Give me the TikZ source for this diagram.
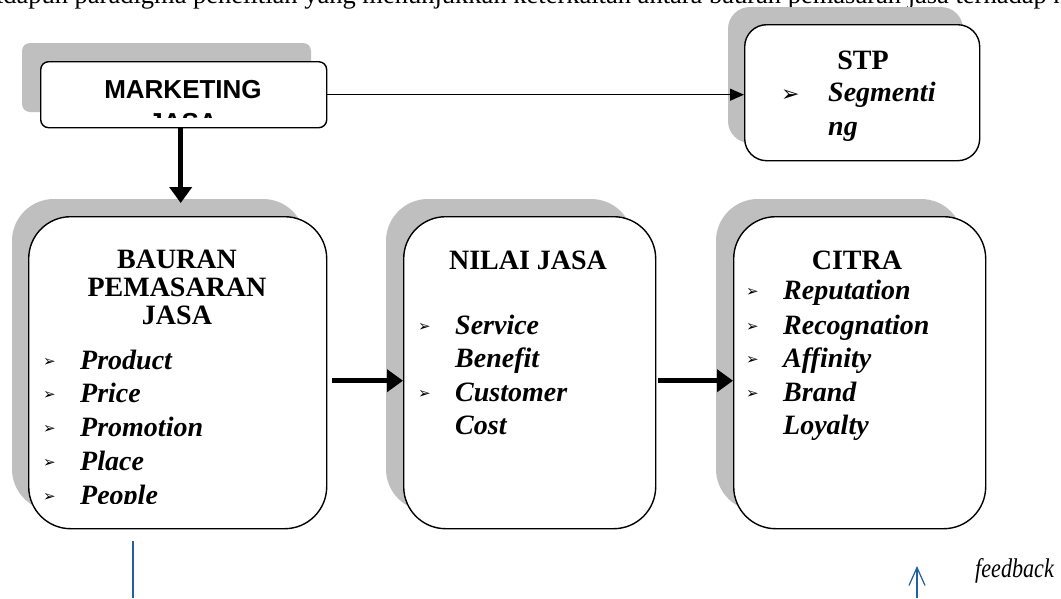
\documentclass[tikz,border=0pt]{standalone}
\usepackage{fontspec}
\setmainfont{Liberation Serif}
\newfontfamily\arialf{Liberation Sans}
\newfontfamily\dejavuf{DejaVu Sans}
\newfontfamily\condf{Liberation Serif}[FakeStretch=0.82]
\usetikzlibrary{arrows.meta}
\definecolor{shade}{RGB}{191,191,191}
\definecolor{fbblue}{RGB}{31,96,166}
\begin{document}
\begin{tikzpicture}[x=1pt,y=-1pt,
  shadowfill/.style={fill=shade},
  mainbox/.style={draw=black, line width=1.4pt, fill=white, inner sep=0pt, anchor=north west},
  ttl/.style={font=\bfseries\fontsize{28}{28}\selectfont, inner sep=0pt, anchor=base},
  itm/.style={font=\bfseries\itshape\fontsize{28}{28}\selectfont, inner sep=0pt, anchor=base west},
  bul/.style={font=\dejavuf\fontsize{15}{15}\selectfont, inner sep=0pt, anchor=base west},
  fat/.style={line width=5pt, -{Triangle[length=16pt,width=22pt]}},
  thinarr/.style={line width=1.2pt, -{Triangle[length=14pt,width=12pt]}},
  blueln/.style={draw=fbblue, line width=1.2pt}]
\useasboundingbox (0,0) rectangle (1061,598);
\fill[white] (0,0) rectangle (1061,598);

% clipped heading line
\node[font=\fontsize{26.5}{26.5}\selectfont, inner sep=0pt, anchor=base west] (head) at (-16,3) {Adapun paradigma penelitian yang menunjukkan keterkaitan antara bauran pemasaran jasa terhadap n};

% shadows
\fill[shadowfill, rounded corners=8pt] (22,43) rectangle ++(289,69);
\fill[shadowfill, rounded corners=22pt] (728,7) rectangle ++(235,136);
\fill[shadowfill, rounded corners=42pt] (12,199) rectangle ++(293,312);
\fill[shadowfill, rounded corners=42pt] (386,199) rectangle ++(247,312);
\fill[shadowfill, rounded corners=42pt] (716,199) rectangle ++(247,312);

% boxes
\node[mainbox, rounded corners=8pt, minimum width=286pt, minimum height=66pt] (mkt) at (40,61) {};
\node[mainbox, rounded corners=22pt, minimum width=235pt, minimum height=136pt] (stp) at (744,24) {};
\node[mainbox, rounded corners=42pt, minimum width=298pt, minimum height=312pt] (bauran) at (28,216) {};
\node[mainbox, rounded corners=42pt, minimum width=252pt, minimum height=312pt] (nilai) at (403,216) {};
\node[mainbox, rounded corners=42pt, minimum width=252pt, minimum height=312pt] (citra) at (733,216) {};

% MARKETING JASA
\begin{scope}
\clip (40,61) rectangle (326,117);
\node[font=\arialf\bfseries\fontsize{26}{26}\selectfont, inner sep=0pt, anchor=base] (mkt1) at (183,98) {MARKETING};
\node[font=\arialf\bfseries\fontsize{26}{26}\selectfont, inner sep=0pt, anchor=base] (mkt2) at (183,131) {JASA};
\end{scope}

% STP
\node[ttl] (stpt) at (863,69) {STP};
\node[font=\dejavuf\fontsize{22}{22}\selectfont, inner sep=0pt, anchor=base west] (stpb) at (781,101) {➢};
\node[itm] (stp1) at (828,101) {Segmenti};
\node[itm] (stp2) at (828,135) {ng};

% BAURAN
\node[ttl] (b1) at (177,268) {BAURAN};
\node[ttl] (b2) at (177,296) {PEMASARAN};
\node[ttl] (b3) at (177,324) {JASA};
\begin{scope}
\clip (28,216) rectangle (326,503);
\foreach \t/\yy [count=\i] in {Product/369,Price/402,Promotion/436,Place/470,People/504}{
  \node[bul] (bb\i) at (43,\yy-3) {➢};
  \node[itm] (bi\i) at (80,\yy) {\t};
}
\end{scope}

% NILAI JASA
\node[ttl] (n1) at (528,269) {NILAI JASA};
\node[bul] (nb1) at (418,331) {➢};
\node[itm] (ni1) at (455,334) {Service};
\node[itm] (ni2) at (455,367) {Benefit};
\node[bul] (nb2) at (418,398) {➢};
\node[itm] (ni3) at (455,401) {Customer};
\node[itm] (ni4) at (455,434) {Cost};

% CITRA
\node[ttl] (c1) at (857,269) {CITRA};
\foreach \t/\yy [count=\i] in {Reputation/299,Recognation/334,Affinity/367,Brand/401}{
  \node[bul] (cb\i) at (746,\yy-3) {➢};
  \node[itm] (ci\i) at (783,\yy) {\t};
}
\node[itm] (ci5) at (783,434) {Loyalty};

% connectors
\draw[thinarr] (mkt.east) -- (mkt.east -| stp.west);
\draw[fat] ([xshift=-3pt]mkt.south) -- ([xshift=-3pt]mkt.south |- bauran.north) [shorten >=13pt];
\draw[fat, shorten <=5pt] ([yshift=-8pt]bauran.east) -- ([yshift=-8pt]nilai.west);
\draw[fat, shorten <=2pt] ([yshift=-8pt]nilai.east) -- ([yshift=-8pt]citra.west);

% feedback lines
\coordinate (l1) at (133,541);
\coordinate (l2) at (133,598);
\draw[blueln] (l1) -- (l2);
\coordinate (f1) at (917,598);
\coordinate (f2) at (917,566);
\draw[blueln, -{Straight Barb[length=18pt,width=16pt,line width=1.2pt]}] (f1) -- (f2);
\node[font=\condf\itshape\fontsize{27}{27}\selectfont, inner sep=0pt, anchor=base west] (fb) at (975,577) {feedback};
\end{tikzpicture}
\end{document}
